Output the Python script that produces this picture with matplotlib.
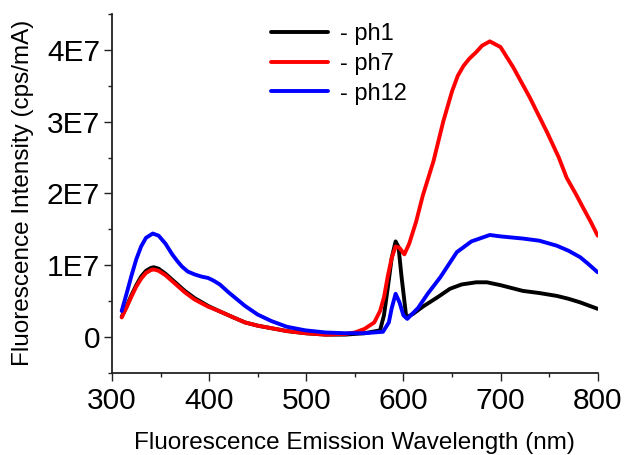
import numpy as np
import matplotlib
matplotlib.use('Agg')
import matplotlib.pyplot as plt
from matplotlib.ticker import MultipleLocator, FuncFormatter

plt.rcParams['font.family'] = ['Liberation Sans', 'DejaVu Sans']

# wavelength (nm) / intensity (x1E7 cps/mA)
ph1_x = [310, 315, 320, 325, 330, 335, 340, 343, 348, 355, 365, 375, 385, 399, 410,
         425, 437, 450, 464, 480, 499, 520, 540, 560, 576, 580, 584, 588, 592, 595,
         598, 603, 610, 620, 635, 648, 660, 675, 686, 700, 723, 740, 758, 770, 782,
         790, 800]
ph1_y = [0.28, 0.42, 0.58, 0.72, 0.84, 0.92, 0.96, 0.97, 0.95, 0.88, 0.76, 0.64, 0.54,
         0.43, 0.36, 0.27, 0.20, 0.155, 0.12, 0.08, 0.05, 0.03, 0.03, 0.05, 0.09, 0.30,
         0.69, 1.10, 1.33, 1.25, 0.85, 0.27, 0.32, 0.42, 0.55, 0.67, 0.73, 0.76, 0.76,
         0.72, 0.64, 0.61, 0.57, 0.53, 0.48, 0.44, 0.39]

ph7_x = [310, 315, 320, 325, 330, 335, 340, 343, 348, 355, 365, 375, 385, 399, 410,
         425, 437, 450, 464, 480, 499, 520, 540, 550, 560, 570, 576, 580, 584, 588,
         592, 596, 601, 606, 613, 620, 631, 641, 650, 656, 662, 668, 675, 681, 689,
         700, 713, 730, 748, 760, 768, 778, 785, 793, 800]
ph7_y = [0.27, 0.41, 0.56, 0.70, 0.81, 0.89, 0.93, 0.94, 0.92, 0.86, 0.74, 0.62, 0.52,
         0.42, 0.36, 0.27, 0.20, 0.155, 0.12, 0.08, 0.05, 0.03, 0.04, 0.06, 0.11, 0.20,
         0.36, 0.55, 0.85, 1.10, 1.26, 1.24, 1.15, 1.30, 1.60, 1.97, 2.45, 3.00, 3.42,
         3.64, 3.78, 3.88, 3.97, 4.06, 4.12, 4.04, 3.76, 3.34, 2.85, 2.50, 2.22, 1.98,
         1.80, 1.60, 1.41]

ph12_x = [310, 315, 320, 325, 330, 335, 342, 348, 355, 362, 367, 372, 378, 385, 392,
          399, 405, 411, 420, 437, 450, 464, 480, 499, 520, 540, 560, 579, 585, 588,
          592, 596, 600, 604, 615, 625, 638, 655, 670, 689, 700, 723, 740, 758, 770,
          782, 790, 800]
ph12_y = [0.36, 0.60, 0.85, 1.08, 1.26, 1.38, 1.44, 1.41, 1.30, 1.15, 1.06, 0.98, 0.91,
          0.87, 0.84, 0.82, 0.78, 0.73, 0.62, 0.43, 0.31, 0.22, 0.14, 0.09, 0.06, 0.05,
          0.05, 0.07, 0.20, 0.40, 0.60, 0.48, 0.30, 0.25, 0.40, 0.60, 0.83, 1.18, 1.33,
          1.42, 1.40, 1.37, 1.34, 1.27, 1.20, 1.11, 1.02, 0.90]

series = [
    ('- ph1', ph1_x, ph1_y, '#000000'),
    ('- ph7', ph7_x, ph7_y, '#ff0000'),
    ('- ph12', ph12_x, ph12_y, '#0000ff'),
]

fig = plt.figure(figsize=(6.27, 4.55), dpi=100)
ax = fig.add_axes([0.1786, 0.181, 0.7746, 0.788])

for label, xs, ys, color in series:
    ax.plot(xs, np.array(ys) * 1e7, color=color, linewidth=2.8, label=label,
            solid_capstyle='round', solid_joinstyle='round')

ax.set_xlim(300, 800)
ax.set_ylim(-0.5e7, 4.5e7)

# only left and bottom spines
ax.spines['top'].set_visible(False)
ax.spines['right'].set_visible(False)
for s in ('left', 'bottom'):
    ax.spines[s].set_linewidth(1.3)
    ax.spines[s].set_color('#222222')

ax.xaxis.set_major_locator(MultipleLocator(100))
ax.xaxis.set_minor_locator(MultipleLocator(50))
ax.yaxis.set_major_locator(MultipleLocator(1e7))
ax.yaxis.set_minor_locator(MultipleLocator(0.5e7))
ax.yaxis.set_major_formatter(FuncFormatter(lambda v, p: '0' if abs(v) < 1 else f'{v/1e7:.0f}E7'))

ax.tick_params(which='major', direction='out', length=5.5, width=1.0, labelsize=21.5,
               color='#222222', pad=3)
ax.tick_params(which='minor', direction='out', length=3, width=1.0, color='#222222')
ax.tick_params(axis='x', which='major', pad=5)

# x label sits just inside the bottom edge (the original crops it slightly)
ax.set_xlabel('Fluorescence Emission Wavelength (nm)', fontsize=17.5, va='bottom')
ax.set_ylabel('Fluorescence Intensity (cps/mA)', fontsize=17.5, va='center')
ax.xaxis.set_label_coords(0.5, -0.228)
ax.yaxis.set_label_coords(-0.183, 0.5)

ax.legend(loc='upper left', bbox_to_anchor=(0.3267, 0.975), frameon=False, fontsize=17,
          handlelength=2.42, handletextpad=0.5, labelspacing=0.33, borderpad=0,
          borderaxespad=0)

fig.savefig('out.png', dpi=100)
